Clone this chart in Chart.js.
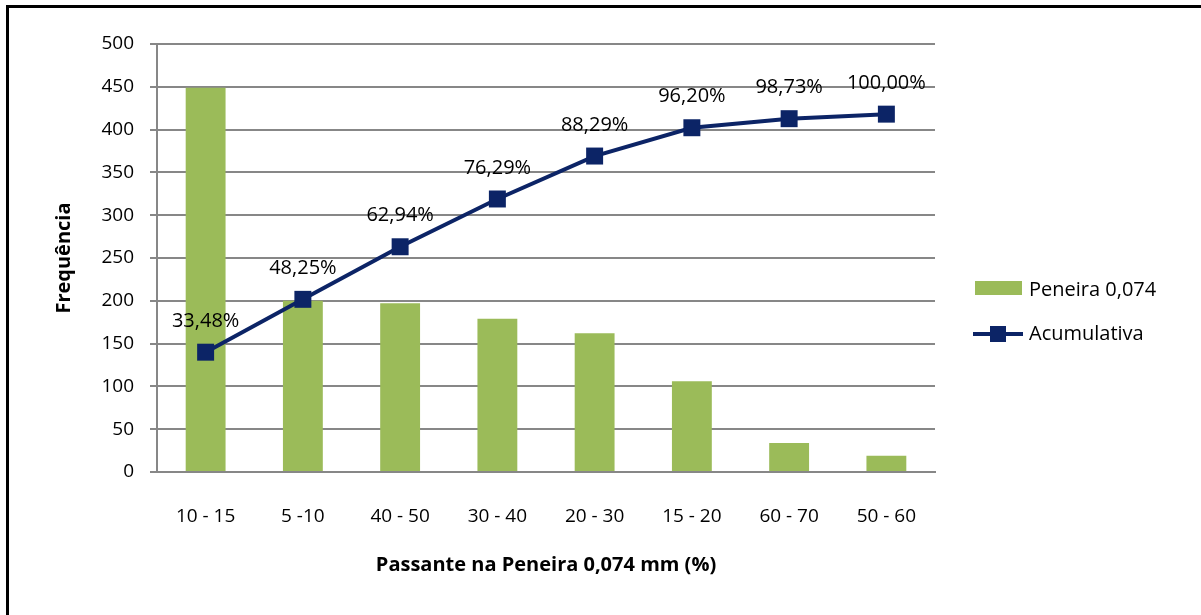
<!DOCTYPE html>
<html>
<head>
<meta charset="utf-8">
<script src="https://cdn.jsdelivr.net/npm/chart.js@4.4.1/dist/chart.umd.min.js"></script>
<style>
  html, body { margin: 0; padding: 0; background: #fff; }
  #wrap { position: relative; width: 1201px; height: 615px; overflow: hidden; }
  #frame { position: absolute; left: 6px; top: 5px; width: 1300px; height: 700px;
           border-top: 3px solid #000; border-left: 3px solid #000; pointer-events: none; }
  canvas { position: absolute; left: 0; top: 0; }
</style>
</head>
<body>
<div id="wrap">
  <canvas id="c" width="1201" height="615"></canvas>
  <div id="frame"></div>
</div>
<script>
// Faixas de passante na peneira 0,074 mm (%)
const categories = ['10 - 15', '5 -10', '40 - 50', '30 - 40', '20 - 30', '15 - 20', '60 - 70', '50 - 60'];
// Frequência de cada faixa
const frequencia = [449, 200, 197, 179, 162, 106, 34, 19];
// Frequência acumulada (%)
const acumulativa = [33.48, 48.25, 62.94, 76.29, 88.29, 96.20, 98.73, 100.00];
const yTicks = [0, 50, 100, 150, 200, 250, 300, 350, 400, 450, 500];

const FONT = "'Open Sans', 'Liberation Sans', sans-serif";
const GREEN = '#9BBB59';
const NAVY = '#0C2466';
const GRID = '#878787';

const fmtPct = v => v.toFixed(2).replace('.', ',') + '%';

// Rótulos percentuais acima dos pontos da curva acumulada
const pointLabels = {
  id: 'pointLabels',
  afterDatasetsDraw(chart) {
    const ctx = chart.ctx;
    const meta = chart.getDatasetMeta(1);
    ctx.save();
    ctx.font = '20px ' + FONT;
    ctx.fillStyle = '#000';
    ctx.textAlign = 'center';
    ctx.textBaseline = 'middle';
    meta.data.forEach((pt, i) => {
      ctx.fillText(fmtPct(chart.data.datasets[1].data[i]), pt.x, pt.y - 31);
    });
    ctx.restore();
  }
};

// Legenda à direita da área do gráfico
const sideLegend = {
  id: 'sideLegend',
  afterDraw(chart) {
    const ctx = chart.ctx;
    const ds = chart.data.datasets;
    ctx.save();
    ctx.font = '20px ' + FONT;
    ctx.textBaseline = 'middle';
    ctx.textAlign = 'left';
    // barra
    ctx.fillStyle = ds[0].backgroundColor;
    ctx.fillRect(975, 281, 47, 14);
    ctx.fillStyle = '#000';
    ctx.fillText(ds[0].label, 1029, 290);
    // linha
    ctx.strokeStyle = ds[1].borderColor;
    ctx.lineWidth = 4;
    ctx.beginPath();
    ctx.moveTo(973, 334);
    ctx.lineTo(1023, 334);
    ctx.stroke();
    ctx.fillStyle = ds[1].pointBackgroundColor;
    ctx.fillRect(990, 326, 16, 16);
    ctx.fillStyle = '#000';
    ctx.fillText(ds[1].label, 1029, 334);
    ctx.restore();
  }
};

new Chart(document.getElementById('c'), {
  data: {
    labels: categories,
    datasets: [
      {
        type: 'bar',
        label: 'Peneira 0,074',
        data: frequencia,
        backgroundColor: GREEN,
        borderWidth: 0,
        barPercentage: 0.41,
        categoryPercentage: 1,
        yAxisID: 'y',
        order: 2
      },
      {
        type: 'line',
        label: 'Acumulativa',
        data: acumulativa,
        borderColor: NAVY,
        borderWidth: 4,
        pointStyle: 'rect',
        pointRadius: 12,
        pointBackgroundColor: NAVY,
        pointBorderColor: NAVY,
        pointBorderWidth: 0,
        tension: 0,
        yAxisID: 'y2',
        order: 1
      }
    ]
  },
  options: {
    responsive: false,
    animation: false,
    events: [],
    layout: { padding: { top: 44, right: 266, bottom: 0, left: 0 } },
    plugins: { legend: { display: false }, tooltip: { enabled: false } },
    scales: {
      x: {
        afterFit: s => { s.height = 143; },
        grid: { display: false, drawTicks: false },
        border: { color: GRID, width: 2 },
        ticks: { color: '#000', font: { family: FONT, size: 19 }, padding: 33 },
        title: {
          display: true,
          text: 'Passante na Peneira 0,074 mm (%)',
          color: '#000',
          font: { family: FONT, size: 20, weight: 'bold' },
          padding: { top: 10, bottom: 38 }
        }
      },
      y: {
        min: 0,
        max: 500,
        afterBuildTicks: s => { s.ticks = yTicks.map(v => ({ value: v })); },
        afterFit: s => { s.width = 157; },
        grid: { color: GRID, lineWidth: 2, tickLength: 7 },
        border: { color: GRID, width: 2 },
        ticks: { color: '#000', font: { family: FONT, size: 19 }, padding: 16 },
        title: {
          display: true,
          text: 'Frequência',
          color: '#000',
          font: { family: FONT, size: 20, weight: 'bold' },
          padding: { top: 52, bottom: 0 }
        }
      },
      y2: {
        display: false,
        min: 0,
        max: 119.6
      }
    }
  },
  plugins: [pointLabels, sideLegend]
});
</script>
</body>
</html>
